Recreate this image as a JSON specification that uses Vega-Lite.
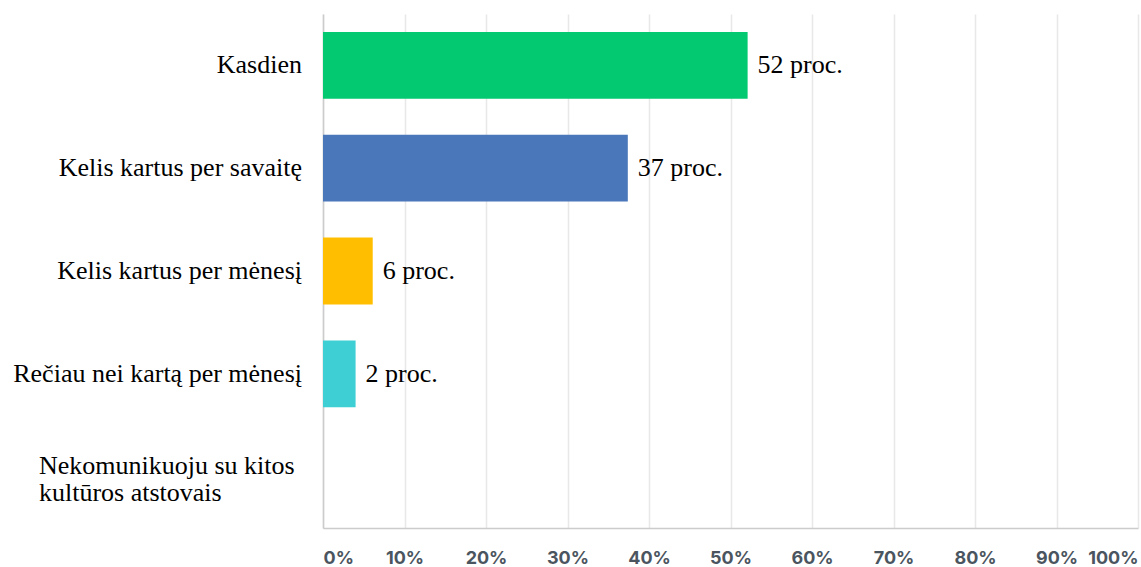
{
  "$schema": "https://vega.github.io/schema/vega-lite/v6.json",
  "autosize": "none",
  "width": 815,
  "height": 514,
  "padding": {"left": 323, "top": 14, "right": 3, "bottom": 39},
  "background": "white",
  "config": {"view": {"stroke": null}},
  "data": {
    "values": [
      {"cat": "Kasdien", "value": 52.1, "label": "52 proc."},
      {"cat": "Kelis kartus per savaitę", "value": 37.4, "label": "37 proc."},
      {"cat": "Kelis kartus per mėnesį", "value": 6.1, "label": "6 proc."},
      {"cat": "Rečiau nei kartą per mėnesį", "value": 4.0, "label": "2 proc."},
      {"cat": "Nekomunikuoju su kitos\nkultūros atstovais", "value": 0, "label": ""}
    ]
  },
  "encoding": {
    "y": {
      "field": "cat",
      "type": "nominal",
      "sort": null,
      "scale": {"paddingInner": 0.35, "paddingOuter": 0.175},
      "axis": {"labels": false, "ticks": false, "title": null, "domainColor": "#cccccc", "domainWidth": 1.5, "grid": false}
    }
  },
  "layer": [
    {
      "mark": {"type": "bar"},
      "encoding": {
        "x": {
          "field": "value",
          "type": "quantitative",
          "scale": {"domain": [0, 100], "nice": false},
          "axis": {
            "values": [0, 10, 20, 30, 40, 50, 60, 70, 80, 90, 100],
            "labelExpr": "datum.value + '%'",
            "labelFlush": true,
            "labelFont": "Inter",
            "labelFontWeight": "bold",
            "labelFontSize": 18,
            "labelColor": "#4b5560",
            "labelPadding": 21,
            "ticks": false,
            "title": null,
            "domainColor": "#cccccc",
            "domainWidth": 1.5,
            "grid": true,
            "gridColor": "#e8e8e8",
            "gridWidth": 1.5
          }
        },
        "color": {
          "field": "cat",
          "type": "nominal",
          "scale": {
            "domain": ["Kasdien", "Kelis kartus per savaitę", "Kelis kartus per mėnesį", "Rečiau nei kartą per mėnesį", "Nekomunikuoju su kitos\nkultūros atstovais"],
            "range": ["#03c971", "#4a77b9", "#ffbf00", "#3ecfd4", "#999999"]
          },
          "legend": null
        }
      }
    },
    {
      "transform": [{"filter": "datum.label != ''"}],
      "mark": {"type": "text", "align": "left", "dx": 10, "font": "Liberation Serif, Times New Roman, serif", "fontSize": 26, "color": "black"},
      "encoding": {
        "x": {"field": "value", "type": "quantitative"},
        "text": {"field": "label"}
      }
    },
    {
      "transform": [{"filter": "indexof(datum.cat, '\\n') < 0"}],
      "mark": {"type": "text", "align": "right", "dx": -21, "font": "Liberation Serif, Times New Roman, serif", "fontSize": 26, "color": "black"},
      "encoding": {
        "x": {"datum": 0, "type": "quantitative"},
        "text": {"field": "cat"}
      }
    },
    {
      "transform": [{"filter": "indexof(datum.cat, '\\n') >= 0"}],
      "mark": {"type": "text", "align": "left", "dx": -284, "dy": -11, "font": "Liberation Serif, Times New Roman, serif", "fontSize": 26, "color": "black", "lineBreak": "\n", "lineHeight": 27},
      "encoding": {
        "x": {"datum": 0, "type": "quantitative"},
        "text": {"field": "cat"}
      }
    }
  ]
}
